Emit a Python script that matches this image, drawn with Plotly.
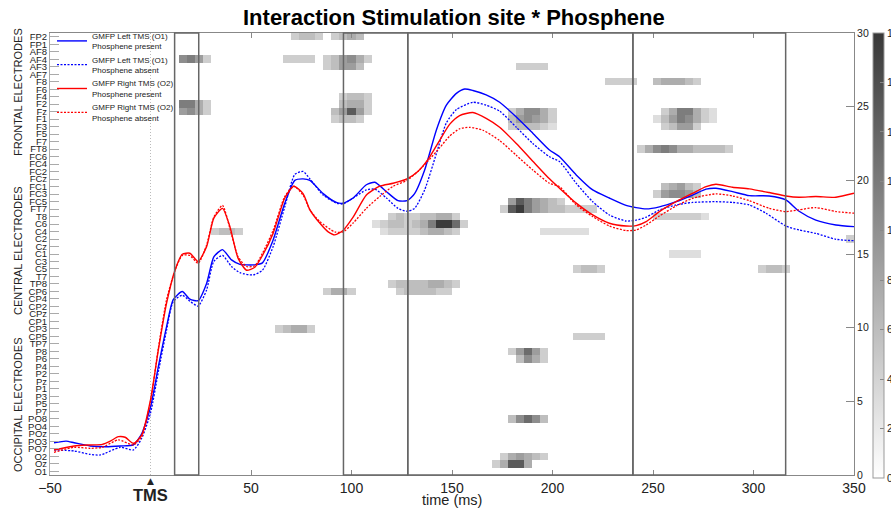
import numpy as np
import plotly.graph_objects as go

# ---------------- data ----------------
electrodes = ["FP2", "FP1", "AF8", "AF4", "AF3", "AF7", "F8", "F6", "F4", "F2", "Fz", "F1", "F3",
              "F5", "F7", "FT8", "FC6", "FC4", "FC2", "FCz", "FC1", "FC3", "FC5", "FT7", "T8",
              "C6", "C4", "C2", "Cz", "C1", "C3", "C5", "T7", "TP8", "CP6", "CP4", "CP2", "CPz",
              "CP1", "CP3", "CP5", "TP7", "P8", "P6", "P4", "P2", "Pz", "P1", "P3", "P5", "P7",
              "PO8", "PO4", "POz", "PO3", "PO7", "O2", "Oz", "O1"]

time_bins = list(range(-48, 352, 4))  # bin centres (ms)

# significant clusters: (electrode, first bin centre, F values in consecutive bins)
clusters = [
    ("AF4", 16, [10.3, 11.8, 8.9, 4.4]),
    ("F2", 16, [11.8, 11.8, 7.4, 4.4]),
    ("Fz", 16, [8.9, 10.3, 7.4, 4.4]),
    ("FP2", 72, [4.4, 5.9, 5.9, 4.4]),
    ("AF4", 68, [4.4, 4.4, 4.4, 4.4]),
    ("FP2", 92, [4.4, 5.9, 7.4, 5.9]),
    ("AF4", 88, [4.4, 5.9, 8.9, 10.3, 7.4, 4.4]),
    ("AF3", 88, [4.4, 5.9, 8.9, 8.9, 5.9]),
    ("F4", 96, [4.4, 5.9, 5.9, 4.4]),
    ("F2", 96, [5.9, 7.4, 7.4, 4.4]),
    ("Fz", 92, [5.9, 8.9, 14.8, 8.9, 4.4]),
    ("F1", 92, [4.4, 5.9, 5.9, 4.4]),
    ("C4", 32, [4.4, 5.9, 5.9, 4.4]),
    ("CP3", 64, [4.4, 5.9, 7.4, 7.4, 4.4]),
    ("CP6", 88, [4.4, 7.4, 7.4, 4.4]),
    ("TP8", 120, [4.4, 5.9, 5.9, 5.9, 5.9, 7.4, 7.4, 5.9, 4.4]),
    ("CP6", 124, [4.4, 5.9, 5.9, 5.9, 5.9, 4.4, 4.4]),
    ("T8", 120, [4.4, 5.9, 4.4, 4.4, 5.9, 5.9, 7.4, 7.4, 4.4]),
    ("C6", 112, [3.0, 4.4, 5.9, 5.9, 4.4, 5.9, 7.4, 11.8, 17.7, 17.7, 13.3, 4.4]),
    ("C4", 116, [3.0, 4.4, 4.4, 4.4, 4.4, 5.9, 7.4, 7.4, 5.9, 4.4]),
    ("AF3", 184, [4.4, 4.4, 4.4, 4.4]),
    ("F8", 228, [4.4, 4.4, 4.4, 4.4]),
    ("F8", 252, [5.9, 7.4, 7.4, 7.4, 5.9, 4.4]),
    ("Fz", 180, [4.4, 7.4, 10.3, 10.3, 7.4, 4.4]),
    ("F1", 180, [5.9, 8.9, 10.3, 8.9, 7.4, 4.4]),
    ("F3", 180, [4.4, 5.9, 5.9, 5.9, 4.4, 3.0]),
    ("Fz", 256, [4.4, 7.4, 11.8, 11.8, 7.4, 4.4, 3.0]),
    ("F1", 252, [3.0, 5.9, 8.9, 11.8, 10.3, 7.4, 4.4, 3.0]),
    ("F3", 256, [4.4, 5.9, 8.9, 8.9, 4.4]),
    ("FT8", 244, [4.4, 7.4, 10.3, 11.8, 10.3, 7.4, 7.4, 5.9, 5.9, 5.9, 5.9, 4.4]),
    ("FC1", 256, [5.9, 7.4, 8.9, 5.9, 4.4]),
    ("FC3", 252, [4.4, 8.9, 10.3, 10.3, 8.9, 5.9]),
    ("FC5", 180, [8.9, 14.8, 11.8, 8.9, 7.4, 5.9, 4.4]),
    ("FT7", 176, [4.4, 14.8, 17.7, 11.8, 8.9, 7.4, 5.9, 5.9, 4.4, 4.4, 4.4, 4.4]),
    ("T8", 252, [4.4, 4.4, 4.4, 4.4, 4.4, 4.4, 3.0]),
    ("C4", 196, [3.0, 3.0, 3.0, 3.0, 3.0, 3.0]),
    ("C1", 260, [3.0, 3.0, 3.0, 3.0]),
    ("C5", 212, [4.4, 5.9, 5.9, 4.4]),
    ("C5", 304, [4.4, 5.9, 5.9, 4.4]),
    ("C2", 348, [4.4]),
    ("CP5", 212, [4.4, 4.4, 4.4, 4.4]),
    ("P8", 180, [4.4, 8.9, 13.3, 8.9, 4.4]),
    ("P6", 184, [5.9, 10.3, 7.4, 4.4]),
    ("PO8", 180, [5.9, 10.3, 13.3, 10.3, 5.9]),
    ("O2", 176, [4.4, 7.4, 8.9, 7.4, 5.9, 4.4]),
    ("Oz", 172, [4.4, 7.4, 14.8, 14.8, 7.4]),
]

# GMFP curves: (time ms, GMFP)
left_present = [(-48, 2.19), (-42, 2.3), (-38, 2.19), (-30, 1.97), (-22, 1.92), (-15, 1.97), (-8.5, 2.04),
                (-4.4, 2.8), (0, 4.6), (3.9, 7.35), (8, 10.07), (11.3, 11.9), (15.8, 12.45), (19.6, 11.93),
                (23.7, 11.83), (27.9, 13.0), (31.5, 14.8), (35.8, 15.3), (40.3, 14.6), (44.5, 14.3),
                (51.1, 14.26), (55.7, 14.4), (61, 15.95), (66.8, 18.45), (71.8, 20.0), (75.9, 20.1),
                (79.3, 20.0), (85.9, 19.1), (92.5, 18.5), (95.8, 18.45), (100.8, 18.8), (107.4, 19.7),
                (111.6, 19.87), (117.4, 19.23), (123.1, 18.62), (127.6, 18.62), (131.4, 19.1), (136.4, 20.7),
                (142.2, 23.4), (147.2, 25.1), (152.2, 25.9), (156.3, 26.2), (160.4, 26.1), (167, 25.8),
                (173.7, 25.3), (182, 24.3), (190.2, 23.2), (198.5, 22.06), (203.5, 21.6), (211.8, 20.37),
                (220, 19.35), (228.3, 18.8), (236.6, 18.3), (241.6, 18.15), (246.6, 18.06), (253.2, 18.2),
                (261.5, 18.55), (269.7, 19.0), (276.4, 19.4), (281.3, 19.46), (289.6, 19.23), (297.9, 18.96),
                (307.8, 18.94), (316.1, 18.67), (322.7, 17.9), (331, 17.3), (341, 16.97), (350, 16.86)]

left_absent = [(-48, 1.7), (-38, 1.63), (-30, 1.4), (-25, 1.36), (-15, 1.88), (-8.5, 1.7), (-4.4, 2.49),
               (0, 4.2), (3.9, 7.0), (8, 9.84), (11.3, 11.77), (15.8, 12.2), (19.6, 11.8), (23.7, 11.47),
               (27.9, 12.56), (31.5, 14.5), (35.8, 14.9), (40.3, 14.15), (44.5, 13.73), (51.1, 13.58),
               (55.7, 13.9), (61, 15.5), (66.8, 18.2), (71.8, 20.4), (75.9, 20.6), (79.3, 20.1), (85.9, 19.0),
               (92.5, 18.45), (95.8, 18.4), (100.8, 18.8), (107.4, 19.35), (111.6, 19.4), (117.4, 18.8),
               (123.1, 18.1), (127.6, 17.9), (131.4, 18.1), (136.4, 19.35), (142.2, 21.8), (147.2, 23.9),
               (152.2, 24.8), (160.4, 25.3), (167, 25.1), (173.7, 24.7), (182, 23.6), (190.2, 22.5),
               (198.5, 21.6), (203.5, 21.27), (211.8, 19.8), (220, 18.55), (228.3, 17.65), (236.6, 17.24),
               (241.6, 17.3), (246.6, 17.5), (253.2, 17.99), (261.5, 18.33), (269.7, 18.5), (281.3, 18.55),
               (289.6, 18.5), (297.9, 18.33), (306.2, 17.77), (316.1, 16.9), (322.7, 16.63), (331, 16.4),
               (341, 16.0), (350, 15.9)]

right_present = [(-48, 1.7), (-38, 1.97), (-30, 2.04), (-24, 2.08), (-20, 2.3), (-16, 2.6), (-12.6, 2.56),
                 (-8.5, 2.15), (-4.4, 2.7), (0, 5.1), (3.9, 8.49), (8, 11.66), (12.2, 13.9), (15.8, 14.98),
                 (19.6, 15.05), (23.7, 14.5), (27.9, 15.5), (31.5, 17.43), (35.8, 18.1), (39.5, 16.86),
                 (43.6, 14.7), (47.8, 13.9), (51.9, 14.1), (55.7, 14.9), (61, 16.4), (66.8, 18.8), (71.3, 19.6),
                 (75.9, 19.1), (79.3, 18.0), (84.2, 17.1), (88.4, 16.5), (91.7, 16.3), (95.8, 16.6),
                 (100.8, 17.5), (107.4, 19.0), (114, 19.6), (120.7, 19.8), (127.6, 20.1), (133, 20.6),
                 (138, 21.4), (143.8, 22.7), (148.8, 23.8), (153.8, 24.4), (160.4, 24.6), (167, 24.2),
                 (173.7, 23.6), (182, 22.5), (190.2, 21.3), (198.5, 20.1), (203.5, 19.46), (211.8, 18.45),
                 (220, 17.65), (228.3, 17.09), (236.6, 16.9), (241.6, 16.93), (246.6, 17.2), (253.2, 17.88),
                 (261.5, 18.55), (269.7, 19.12), (276.4, 19.57), (281.3, 19.73), (289.6, 19.53), (297.9, 19.42),
                 (307.8, 19.17), (316.1, 18.94), (322.7, 18.85), (331, 18.9), (341, 18.85), (350, 19.12)]

right_absent = [(-48, 1.54), (-38, 1.88), (-30, 1.81), (-24, 1.88), (-16, 2.38), (-8.5, 2.04), (-4.4, 2.6),
                (0, 4.98), (3.9, 8.6), (8, 11.9), (12.2, 13.9), (15.8, 14.9), (19.6, 14.9), (23.7, 14.37),
                (27.9, 15.6), (31.5, 17.5), (35.8, 18.3), (39.5, 16.75), (43.6, 14.8), (47.8, 14.15),
                (51.9, 14.2), (55.7, 15.05), (61, 16.6), (66.8, 18.9), (71.3, 19.6), (75.9, 19.0), (79.3, 18.0),
                (84.2, 17.2), (91.7, 16.5), (95.8, 16.5), (100.8, 17.1), (107.4, 18.1), (114, 18.9),
                (120.7, 19.6), (127.6, 20.0), (133, 20.6), (138, 21.3), (143.8, 22.2), (148.8, 23.0),
                (153.8, 23.5), (158.8, 23.6), (165.4, 23.4), (173.7, 22.7), (182, 21.7), (190.2, 20.7),
                (198.5, 19.8), (203.5, 19.57), (211.8, 18.33), (220, 17.54), (228.3, 16.9), (236.6, 16.59),
                (241.6, 16.63), (246.6, 16.97), (253.2, 17.58), (261.5, 18.26), (269.7, 18.78), (281.3, 19.08),
                (289.6, 18.94), (297.9, 18.62), (307.8, 18.1), (316.1, 17.88), (322.7, 18.0), (331, 18.15),
                (341, 17.88), (350, 17.77)]

windows = [(12, 24), (96, 128), (128, 240), (240, 316)]
x_ticks = [-50, 50, 100, 150, 200, 250, 300, 350]
gmfp_ticks = [0, 5, 10, 15, 20, 25, 30]

# ---------------- figure ----------------
FONT = "Liberation Sans, Arial, sans-serif"

z = np.full((len(electrodes), len(time_bins)), np.nan)
for el, t0, vals in clusters:
    r = electrodes.index(el)
    c0 = time_bins.index(t0)
    for k, v in enumerate(vals):
        z[r, c0 + k] = v

fig = go.Figure()
fig.add_trace(go.Heatmap(
    x=time_bins, y=list(range(len(electrodes))), z=z,
    zmin=0, zmax=18, colorscale=[[0, "#ffffff"], [1, "#383838"]],
    hoverongaps=False,
    colorbar=dict(x=(873 - 50) / 804, xanchor="left", xpad=0, y=1.0, yanchor="top", ypad=0,
                  lenmode="pixels", len=445, thickness=11, thicknessmode="pixels",
                  outlinewidth=1, outlinecolor="#999", ticks="inside", ticklen=4, tickcolor="#888",
                  tick0=0, dtick=2, tickfont=dict(size=10.5, family=FONT, color="#222")),
))

series = [
    (left_present, "blue", "solid", "GMFP Left TMS (O1)<br>Phosphene present"),
    (left_absent, "blue", "2px,1.5px", "GMFP Left TMS (O1)<br>Phosphene absent"),
    (right_present, "red", "solid", "GMFP Right TMS (O2)<br>Phosphene present"),
    (right_absent, "red", "2px,1.5px", "GMFP Right TMS (O2)<br>Phosphene absent"),
]
for data, col, dash, name in series:
    t, v = zip(*data)
    fig.add_trace(go.Scatter(x=list(t), y=list(v), yaxis="y2", mode="lines", name=name,
                             line=dict(color=col, width=1.4 if dash == "solid" else 1.3, dash=dash,
                                       shape="spline", smoothing=0.6)))

shapes = [dict(type="line", xref="x", yref="paper", x0=0, x1=0, y0=0, y1=1,
               line=dict(color="#bbb", width=1, dash="1px,2px"), layer="below")]
for a, b in windows:
    shapes.append(dict(type="rect", xref="x", yref="paper", x0=a, x1=b, y0=0, y1=1,
                       line=dict(color="#666", width=1.5), fillcolor="rgba(0,0,0,0)", layer="above"))

annotations = [
    dict(text="<b>Interaction Stimulation site * Phosphene</b>", xref="paper", yref="paper",
         x=(454 - 50) / 804, y=1 + (33 - 18) / 442, xanchor="center", yanchor="middle",
         showarrow=False, font=dict(size=22, family=FONT, color="black")),
    dict(text="<b>TMS</b>", xref="x", yref="paper", x=0, y=(475 - 495) / 442, xanchor="center",
         yanchor="middle", showarrow=False, font=dict(size=16.5, family=FONT, color="#222")),
    dict(text="▲", xref="x", yref="paper", x=0, y=(475 - 481) / 442, xanchor="center",
         yanchor="middle", showarrow=False, font=dict(size=9, family="DejaVu Sans", color="#222")),
    dict(text="time (ms)", xref="x", yref="paper", x=150, y=(475 - 500) / 442, xanchor="center",
         yanchor="middle", showarrow=False, font=dict(size=14.5, family=FONT, color="#222")),
]
for label, yc in [("FRONTAL ELECTRODES", 92), ("CENTRAL ELECTRODES", 251), ("OCCIPITAL ELECTRODES", 405)]:
    annotations.append(dict(text=label, xref="paper", yref="paper", x=(18 - 50) / 804,
                            y=(475 - yc) / 442, xanchor="center", yanchor="middle", textangle=-90,
                            showarrow=False, font=dict(size=11, family=FONT, color="#222")))

fig.update_layout(
    width=891, height=511,
    margin=dict(l=50, r=37, t=33, b=36, pad=0, autoexpand=False),
    paper_bgcolor="white", plot_bgcolor="white",
    font=dict(family=FONT, color="#222"),
    shapes=shapes, annotations=annotations,
    xaxis=dict(range=[-50, 350], tickvals=x_ticks, ticks="inside", ticklen=5, tickcolor="#888",
               showline=True, linecolor="#888", mirror="ticks", showgrid=False, zeroline=False,
               tickfont=dict(size=14, family=FONT, color="#222")),
    yaxis=dict(range=[len(electrodes) - 0.5, -0.5], tickvals=list(range(len(electrodes))),
               ticktext=electrodes, ticks="inside", ticklen=9, tickcolor="#aaa", showline=True,
               linecolor="#aaa", showgrid=False, zeroline=False,
               tickfont=dict(size=9.5, family=FONT, color="#222")),
    yaxis2=dict(overlaying="y", side="right", range=[0, 30], tickvals=gmfp_ticks, ticks="inside",
                ticklen=8, tickcolor="#888", showline=True, linecolor="#888", showgrid=False,
                zeroline=False, tickfont=dict(size=10.5, family=FONT, color="#222")),
    legend=dict(x=(52 - 50) / 804, y=1.0 + 9 / 442, xanchor="left", yanchor="top",
                bgcolor="rgba(0,0,0,0)",
                font=dict(size=8, family=FONT, color="#222"), tracegroupgap=0, itemwidth=30),
)

fig.write_html("out.html")
